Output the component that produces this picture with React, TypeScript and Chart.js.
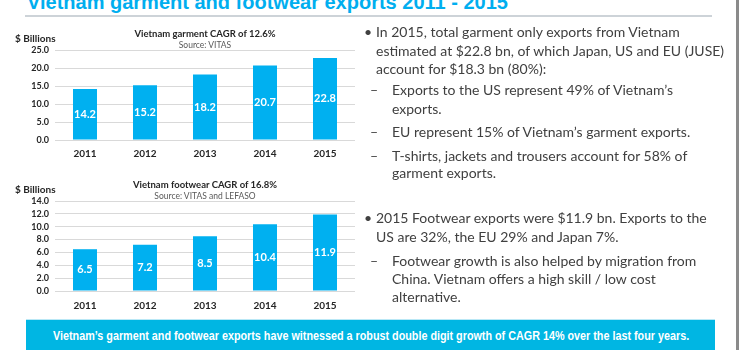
import React, { useEffect, useLayoutEffect, useRef } from "react";
import { Chart, registerables } from "chart.js";

Chart.register(...registerables);

const years = ["2011", "2012", "2013", "2014", "2015"];
const garmentValues = [14.2, 15.2, 18.2, 20.7, 22.8];
const footwearValues = [6.5, 7.2, 8.5, 10.4, 11.9];
const garmentTicks = [0, 5, 10, 15, 20, 25];
const footwearTicks = [0, 2, 4, 6, 8, 10, 12, 14];

const BAR_COLOR = "#00B0F0";
const FONT = "Lato, 'Open Sans', sans-serif";

const barLabels = {
  id: "barLabels",
  afterDatasetsDraw(chart: any) {
    const ctx = chart.ctx;
    const meta = chart.getDatasetMeta(0);
    const data = chart.data.datasets[0].data as number[];
    ctx.save();
    ctx.fillStyle = "#ffffff";
    ctx.font = "bold 11px " + FONT;
    ctx.textAlign = "center";
    ctx.textBaseline = "middle";
    meta.data.forEach((bar: any, i: number) => {
      const p = bar.getProps(["x", "y", "base"], true);
      ctx.fillText(data[i].toFixed(1), p.x, (p.y + p.base) / 2);
    });
    ctx.restore();
  },
};

type BarProps = {
  values: number[];
  ticks: number[];
  top: number;
  height: number;
  padTop: number;
  xHeight: number;
  xPad: number;
};

function BarChart({ values, ticks, top, height, padTop, xHeight, xPad }: BarProps) {
  const ref = useRef<HTMLCanvasElement | null>(null);
  useEffect(() => {
    if (!ref.current) return;
    const chart = new Chart(ref.current, {
      type: "bar",
      data: {
        labels: years,
        datasets: [
          {
            data: values,
            backgroundColor: BAR_COLOR,
            borderWidth: 0,
            categoryPercentage: 1,
            barPercentage: 0.4,
          },
        ],
      },
      options: {
        responsive: false,
        animation: false,
        devicePixelRatio: 1,
        layout: { padding: { top: padTop, right: 15, left: 0, bottom: 0 } },
        plugins: { legend: { display: false }, tooltip: { enabled: false }, title: { display: false } },
        scales: {
          x: {
            grid: { display: false, drawTicks: false },
            border: { display: false },
            ticks: { color: "#262626", font: { family: FONT, size: 10, weight: "bold" }, padding: xPad },
            afterFit: (s: any) => {
              s.height = xHeight;
            },
          },
          y: {
            min: ticks[0],
            max: ticks[ticks.length - 1],
            grid: { color: "#d9d9d9", drawTicks: false, lineWidth: 1 },
            border: { display: false },
            afterBuildTicks: (s: any) => {
              s.ticks = ticks.map((v) => ({ value: v }));
            },
            ticks: {
              autoSkip: false,
              color: "#262626",
              padding: 6,
              font: { family: FONT, size: 9, weight: "bold" },
              callback: (v: any) => Number(v).toFixed(1),
            },
            afterFit: (s: any) => {
              s.width = 55;
            },
          },
        },
      },
      plugins: [barLabels],
    });
    return () => chart.destroy();
  }, []);
  return (
    <canvas
      ref={ref}
      width={370}
      height={height}
      style={{ position: "absolute", left: 0, top, width: 370, height }}
    />
  );
}

type TProps = {
  x: number;
  y: number;
  size: number;
  bold?: boolean;
  color?: string;
  center?: boolean;
  family?: string;
  children: React.ReactNode;
};

function T({ x, y, size, bold, color, center, family, children }: TProps) {
  const lh = Math.round(size * 1.4);
  return (
    <div
      style={{
        position: "absolute",
        left: center ? x - 250 : x,
        width: center ? 500 : undefined,
        textAlign: center ? "center" : "left",
        top: y - lh / 2,
        lineHeight: lh + "px",
        fontSize: size,
        fontWeight: bold ? 700 : 400,
        color: color || "#404040",
        whiteSpace: "nowrap",
        fontFamily: family || FONT,
      }}
    >
      {children}
    </div>
  );
}

function FitText({ cx, y, width, size, children }: { cx: number; y: number; width: number; size: number; children: React.ReactNode }) {
  const ref = useRef<HTMLSpanElement | null>(null);
  useLayoutEffect(() => {
    const el = ref.current;
    if (!el) return;
    const w = el.offsetWidth;
    if (w > 0) el.style.transform = `scaleX(${width / w})`;
  }, []);
  const lh = Math.round(size * 1.4);
  return (
    <span
      ref={ref}
      style={{
        position: "absolute",
        left: cx - width / 2,
        top: y - lh / 2,
        lineHeight: lh + "px",
        fontSize: size,
        fontWeight: 700,
        color: "#ffffff",
        whiteSpace: "nowrap",
        fontFamily: "'Liberation Sans', Arial, sans-serif",
        transformOrigin: "0 50%",
        display: "inline-block",
      }}
    >
      {children}
    </span>
  );
}

const BODY = 14;
const BULLET_X = 364;
const MAIN_X = 376;
const DASH_X = 370;
const SUB_X = 392;

export default function App() {
  return (
    <div
      style={{
        position: "fixed",
        left: 0,
        top: 0,
        width: 740,
        height: 350,
        overflow: "hidden",
        background: "#ffffff",
        fontFamily: FONT,
      }}
    >
      <div
        style={{
          position: "absolute",
          left: 27,
          top: -8.5,
          fontFamily: "'Liberation Sans', Arial, sans-serif",
          fontWeight: 700,
          fontSize: 20,
          lineHeight: "20px",
          color: "#00AEEF",
          whiteSpace: "nowrap",
        }}
      >
        Vietnam garment and footwear exports 2011 - 2015
      </div>
      <div style={{ position: "absolute", left: 25, top: 15, width: 687, height: 2, background: "#cdd3d8" }} />

      <BarChart values={garmentValues} ticks={garmentTicks} top={0} height={165} padTop={50} xHeight={25} xPad={8} />
      <BarChart values={footwearValues} ticks={footwearTicks} top={165} height={155} padTop={36} xHeight={29} xPad={9} />

      <T x={15} y={38} size={10} bold color="#262626">$ Billions</T>
      <T x={205} y={33} size={9.5} bold center color="#262626">Vietnam garment CAGR of 12.6%</T>
      <T x={205} y={45} size={8.5} center color="#595959">Source:  VITAS</T>

      <T x={15} y={189} size={10} bold color="#262626">$ Billions</T>
      <T x={205} y={184} size={9.5} bold center color="#262626">Vietnam footwear CAGR of 16.8%</T>
      <T x={205} y={196} size={8.5} center color="#595959">Source:  VITAS and LEFASO</T>

      <T x={BULLET_X} y={32} size={BODY}>•</T>
      <T x={MAIN_X} y={32} size={BODY}>In 2015, total garment only exports from Vietnam</T>
      <T x={MAIN_X} y={51} size={BODY}>estimated at $22.8 bn, of which Japan, US and EU (JUSE)</T>
      <T x={MAIN_X} y={69} size={BODY}>account for $18.3 bn (80%):</T>
      <T x={DASH_X} y={90} size={BODY}>–</T>
      <T x={SUB_X} y={90} size={BODY}>Exports to the US represent 49% of Vietnam’s</T>
      <T x={SUB_X} y={109} size={BODY}>exports.</T>
      <T x={DASH_X} y={132} size={BODY}>–</T>
      <T x={SUB_X} y={132} size={BODY}>EU represent 15% of Vietnam’s garment exports.</T>
      <T x={DASH_X} y={156} size={BODY}>–</T>
      <T x={SUB_X} y={156} size={BODY}>T-shirts, jackets and trousers account for 58% of</T>
      <T x={SUB_X} y={173} size={BODY}>garment exports.</T>

      <T x={BULLET_X} y={218} size={BODY}>•</T>
      <T x={MAIN_X} y={218} size={BODY}>2015 Footwear exports were $11.9 bn. Exports to the</T>
      <T x={MAIN_X} y={237} size={BODY}>US are 32%, the EU 29% and Japan 7%.</T>
      <T x={DASH_X} y={261} size={BODY}>–</T>
      <T x={SUB_X} y={261} size={BODY}>Footwear growth is also helped by migration from</T>
      <T x={SUB_X} y={279} size={BODY}>China. Vietnam offers a high skill / low cost</T>
      <T x={SUB_X} y={297} size={BODY}>alternative.</T>

      <div
        style={{
          position: "absolute",
          left: 26,
          top: 319,
          width: 689,
          height: 31,
          background: "#00B6E3",
          borderTop: "1px solid #b9e8f6",
          boxSizing: "border-box",
        }}
      />
      <FitText cx={371} y={336} width={636} size={12}>
        Vietnam’s garment and footwear exports have witnessed a robust double digit growth of CAGR 14% over the last four years.
      </FitText>

      <div style={{ position: "absolute", left: 736, top: 0, width: 3, height: 350, background: "#8a8a8a" }} />
    </div>
  );
}
